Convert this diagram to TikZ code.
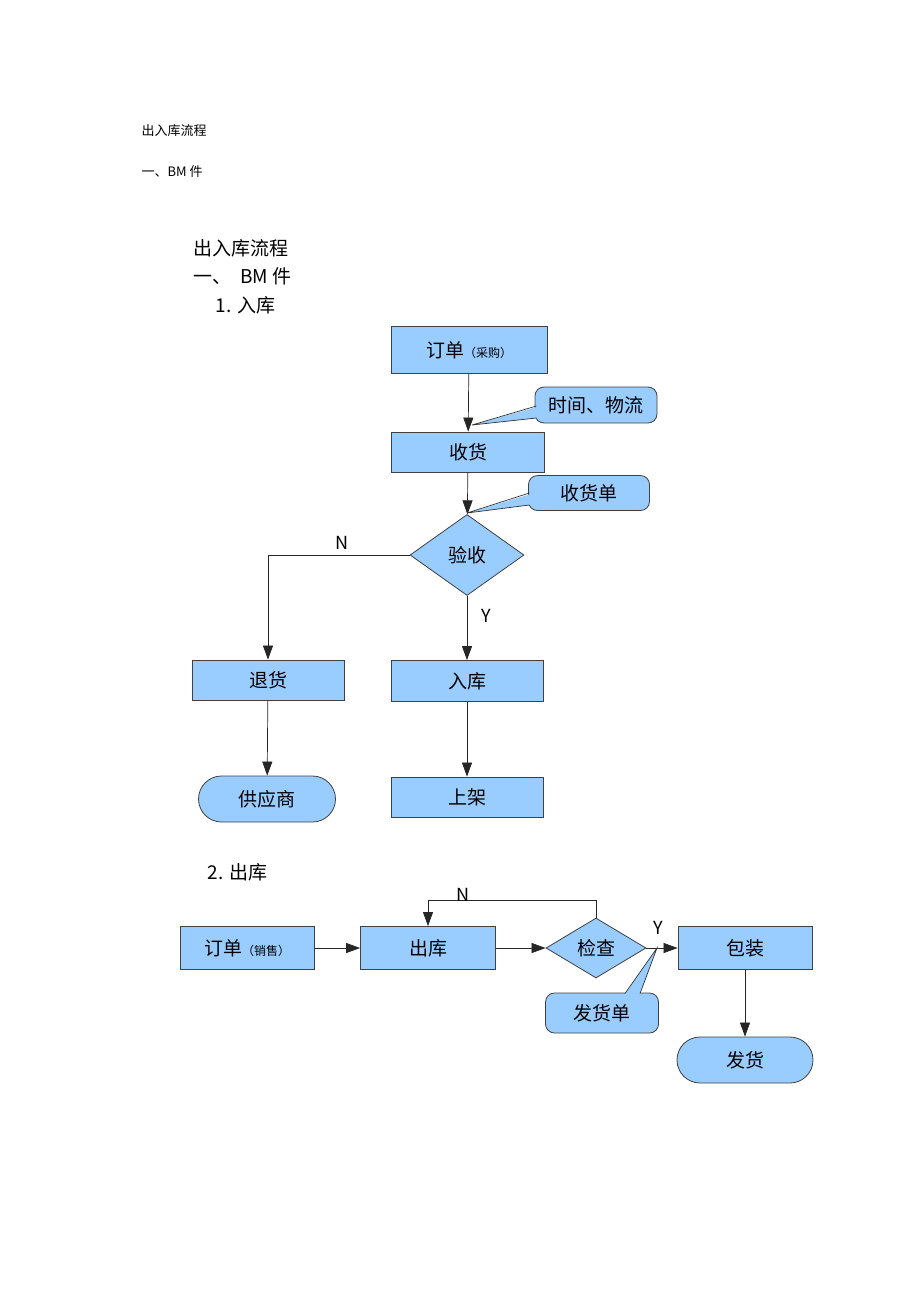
\documentclass[tikz,border=0pt]{standalone}
\usepackage{fontspec}
\setmainfont{Noto Sans CJK SC}
\usetikzlibrary{shapes.geometric,shapes.misc,arrows.meta}
\definecolor{bx}{HTML}{99CCFF}
\begin{document}
\begin{tikzpicture}[x=1pt,y=-1pt,
  box/.style={draw=black!75,fill=bx,line width=0.8pt,font=\fontsize{19}{20}\selectfont,inner sep=0pt},
  dia/.style={draw=black!75,fill=bx,line width=0.8pt,diamond,font=\fontsize{19}{20}\selectfont,inner sep=0pt},
  term/.style={draw=black!75,fill=bx,line width=0.8pt,rounded rectangle,font=\fontsize{19}{20}\selectfont,inner sep=0pt},
  call/.style={draw=black!75,fill=bx,line width=0.8pt,rounded corners=9pt,font=\fontsize{19}{20}\selectfont,inner sep=0pt},
  arr/.style={draw=black!85,line width=0.7pt,-{Triangle[length=14pt,width=10pt]}},
  ln/.style={draw=black!80,line width=0.7pt},
  lbl/.style={font=\fontsize{18}{20}\selectfont}]
\useasboundingbox (0,0) rectangle (920,1302);
\node[anchor=west,font=\fontsize{13}{14}\selectfont] (h1) at (138,131) {出入库流程};
\node[anchor=west,font=\fontsize{13}{14}\selectfont] (h2) at (138,172) {一、BM 件};
\node[anchor=west,font=\fontsize{19}{20}\selectfont] (t1) at (190,248) {出入库流程};
\node[anchor=west,font=\fontsize{19}{20}\selectfont] (t2) at (190,276) {一、\ \ BM 件};
\node[anchor=west,font=\fontsize{19}{20}\selectfont] (t3) at (212,305) {1. 入库};
% part 1
\node[box,minimum width=156pt,minimum height=47pt] (dd) at (469,350) {订单{\fontsize{12}{12}\selectfont（采购）}};
\node[box,minimum width=153pt,minimum height=40pt] (sh) at (468,452) {收货};
\node[dia,minimum width=114pt,minimum height=81pt] (ys) at (467,555) {验收};
\node[box,minimum width=152pt,minimum height=40pt] (th) at (268,680) {退货};
\node[box,minimum width=152pt,minimum height=41pt] (rk) at (467,681) {入库};
\node[term,minimum width=137pt,minimum height=46pt] (gys) at (267,799) {供应商};
\node[box,minimum width=152pt,minimum height=40pt] (sj) at (467,797) {上架};
\draw[arr] (dd) -- (sh);
\draw[arr] (sh) -- (ys);
\coordinate (nc) at (268,555);
\draw[arr] (ys.west) -- (nc) -- (th.north);
\draw[arr] (ys) -- (rk);
\draw[arr] (th) -- (gys);
\draw[arr] (rk) -- (sj);
\node[lbl] (nl) at (342,543) {N};
\node[lbl] (yl) at (486,616) {Y};
% callouts
\node[call,minimum width=122pt,minimum height=36pt] (c1) at (596,405) {时间、物流};
\coordinate (c1t) at (472,425);
\fill[bx] (537,407) -- (c1t) -- (537,418) -- cycle;
\draw[ln] (536.4,406) -- (c1t) -- (536.4,418);
\node[call,minimum width=121pt,minimum height=35pt] (c2) at (589,493) {收货单};
\coordinate (c2t) at (467,513);
\fill[bx] (531,494) -- (c2t) -- (531,505) -- cycle;
\draw[ln] (529.4,493) -- (c2t) -- (529.4,505);
% part 2
\node[anchor=west,font=\fontsize{19}{20}\selectfont] (t4) at (204,872) {2. 出库};
\node[box,minimum width=134pt,minimum height=43pt] (dd2) at (247,948) {订单{\fontsize{12}{12}\selectfont（销售）}};
\node[box,minimum width=135pt,minimum height=43pt] (ck) at (428,948) {出库};
\node[dia,minimum width=100pt,minimum height=60pt] (jc) at (596,948) {检查};
\node[box,minimum width=134pt,minimum height=43pt] (bz) at (745,948) {包装};
\node[term,minimum width=136pt,minimum height=46pt] (fh) at (745,1060) {发货};
\draw[arr] (dd2) -- (ck);
\draw[arr] (ck) -- (jc);
\draw[arr] (jc) -- (bz);
\draw[arr] (bz) -- (fh);
\coordinate (n1) at (596,900);
\coordinate (n2) at (428,900);
\draw[arr] (jc.north) -- (n1) -- (n2) -- (ck.north);
\node[lbl] (nl2) at (463,895) {N};
\node[lbl] (yl2) at (658,928) {Y};
\node[call,minimum width=113pt,minimum height=40pt] (c3) at (602,1013) {发货单};
\coordinate (c3t) at (657,948);
\fill[bx] (625,994) -- (c3t) -- (640,994) -- cycle;
\draw[ln] (625,993.5) -- (c3t) -- (640,993.5);
\end{tikzpicture}
\end{document}
